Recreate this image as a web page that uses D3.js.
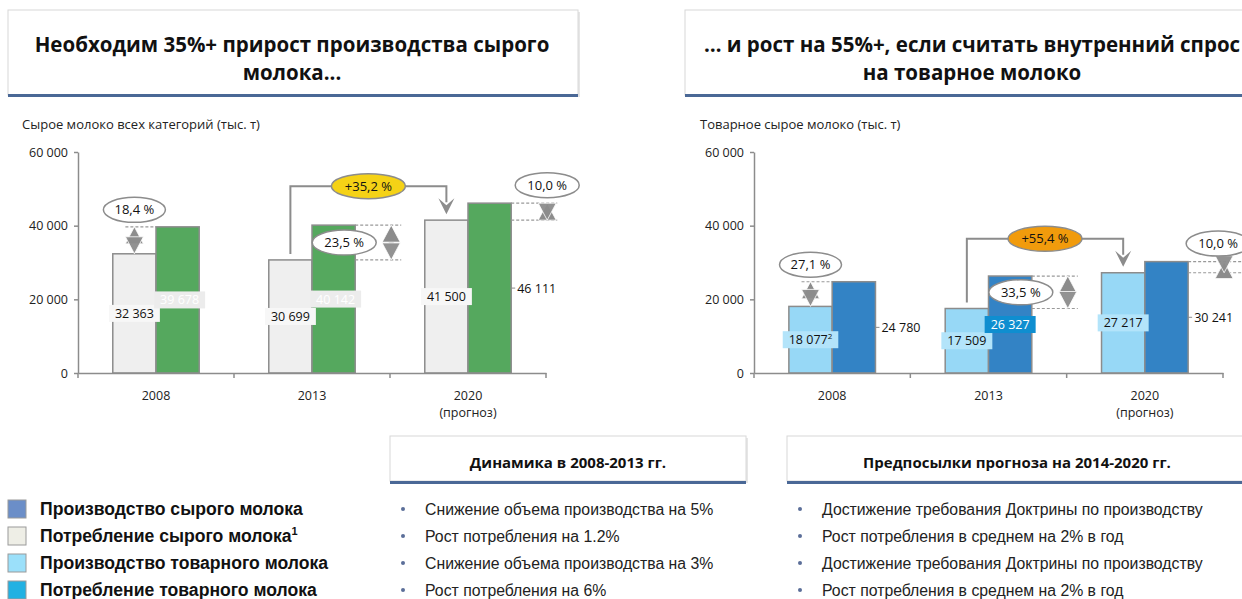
<!DOCTYPE html>
<html>
<head>
<meta charset="utf-8">
<script src="https://cdn.jsdelivr.net/npm/d3@7"></script>
<style>
  body { margin: 0; background: #fff; }
</style>
</head>
<body>
<div id="chart"></div>
<script>
// data
var years = ["2008", "2013", "2020"];
var yearNotes = ["", "", "(прогноз)"];
var rawProduction = [32363, 30699, 41500];
var rawConsumption = [39678, 40142, 46111];
var marketProduction = [18077, 17509, 27217];
var marketProductionNotes = ["2", "", ""];
var marketConsumption = [24780, 26327, 30241];
var rawGapLabels = ["18,4 %", "23,5 %", "10,0 %"];
var marketGapLabels = ["27,1 %", "33,5 %", "10,0 %"];
var rawGrowthLabel = "+35,2 %";
var marketGrowthLabel = "+55,4 %";
var yTicks = [0, 20000, 40000, 60000];

var legendLabels = ["Производство сырого молока", "Потребление сырого молока", "Производство товарного молока", "Потребление товарного молока"];
var legendNotes = ["", "1", "", ""];
var dynamicsTitle = "Динамика в 2008-2013 гг.";
var dynamicsBullets = ["Снижение объема производства на 5%", "Рост потребления на 1.2%", "Снижение объема производства на 3%", "Рост потребления на 6%"];
var forecastTitle = "Предпосылки прогноза на 2014-2020 гг.";
var forecastBullets = ["Достижение требования Доктрины по производству", "Рост потребления в среднем на 2% в год", "Достижение требования Доктрины по производству", "Рост потребления в среднем на 2% в год"];

var width = 1242, height = 599;
var grey = "#8c8c8c";

var svg = d3.select("#chart").append("svg")
    .attr("width", width)
    .attr("height", height)
    .style("font-family", "'Open Sans', sans-serif");

var fmt = d3.formatLocale({decimal: ",", thousands: " ", grouping: [3], currency: ["", ""]}).format(",d");

// header boxes with blue underline
function headerBox(x, y, w, h, lines, size) {
  var g = svg.append("g");
  g.append("rect").attr("x", x + 2).attr("y", y + 2).attr("width", w).attr("height", h)
      .attr("fill", "#e6e6e6");
  g.append("rect").attr("x", x).attr("y", y).attr("width", w).attr("height", h)
      .attr("fill", "#fff").attr("stroke", "#d8d8d8");
  g.append("rect").attr("x", x).attr("y", y + h - 1).attr("width", w).attr("height", 3)
      .attr("fill", "#4a6896");
  lines.forEach(function(t) {
    g.append("text")
        .attr("x", t.cx)
        .attr("y", t.y)
        .attr("text-anchor", "middle")
        .attr("font-weight", "bold")
        .attr("font-size", size)
        .attr("fill", "#111")
        .text(t.text);
  });
}

headerBox(8, 10, 570, 85, [{text: "Необходим 35%+ прирост производства сырого", y: 52, cx: 292},
                           {text: "молока...", y: 80, cx: 292}], 20.5);
headerBox(685, 10, 570, 85, [{text: "… и рост на 55%+, если считать внутренний спрос", y: 52, cx: 972},
                             {text: "на товарное молоко", y: 80, cx: 972}], 20.5);

svg.append("text").attr("x", 22).attr("y", 129).attr("font-size", 13).attr("fill", "#222")
    .text("Сырое молоко всех категорий (тыс. т)");
svg.append("text").attr("x", 700).attr("y", 129).attr("font-size", 13).attr("fill", "#222")
    .text("Товарное сырое молоко (тыс. т)");

function doubleArrow(g, x, yTop, yBot) {
  var hw = 9, hh = 17;
  if (yBot - yTop > 2 * hh) {
    g.append("rect").attr("x", x - 2.5).attr("y", yTop + hh - 1).attr("width", 5)
        .attr("height", yBot - yTop - 2 * hh + 2).attr("fill", grey);
  }
  g.append("path")
      .attr("d", "M" + x + "," + yTop + "L" + (x + hw) + "," + (yTop + hh) + "L" + (x - hw) + "," + (yTop + hh) + "Z")
      .attr("fill", grey).attr("stroke", "#fff").attr("stroke-width", 0.8);
  g.append("path")
      .attr("d", "M" + x + "," + yBot + "L" + (x + hw) + "," + (yBot - hh) + "L" + (x - hw) + "," + (yBot - hh) + "Z")
      .attr("fill", grey).attr("stroke", "#fff").attr("stroke-width", 0.8).attr("fill-opacity", 0.95);
}

function bubble(g, cx, cy, rx, label, fill) {
  g.append("ellipse").attr("cx", cx).attr("cy", cy).attr("rx", rx).attr("ry", 12.5)
      .attr("fill", fill || "#fff").attr("stroke", grey).attr("stroke-width", 1.5);
  g.append("text").attr("x", cx).attr("y", cy + 4.5).attr("text-anchor", "middle")
      .attr("font-size", 13).attr("fill", "#111").text(label);
}

function dashed(g, x1, x2, yy) {
  g.append("line").attr("x1", x1).attr("x2", x2).attr("y1", yy).attr("y2", yy)
      .attr("stroke", "#999").attr("stroke-width", 1.2).attr("stroke-dasharray", "3,2");
}

function drawChart(c) {
  var g = svg.append("g");
  var x = d3.scaleBand().domain(years).range([c.left, c.right]);
  var y = d3.scaleLinear().domain([0, 60000]).range([373, 152]);
  var bw = x.bandwidth() * 0.277;
  var mid = function(d) { return x(d) + x.bandwidth() / 2; };

  // y axis
  var ya = g.append("g").attr("transform", "translate(" + c.left + ",0)")
      .call(d3.axisLeft(y).tickValues(yTicks).tickFormat(fmt).tickSize(4).tickSizeOuter(0).tickPadding(6));
  ya.selectAll("path, line").attr("stroke", grey).attr("stroke-width", 1.5);
  ya.selectAll("text").attr("font-size", 12.5).attr("fill", "#222").style("font-family", "'Open Sans', sans-serif");

  // bars
  var series = [
    {values: c.prod, fill: c.prodFill, dx: -bw},
    {values: c.cons, fill: c.consFill, dx: 0}
  ];
  series.forEach(function(s) {
    g.selectAll(null).data(s.values).enter().append("rect")
        .attr("x", function(d, i) { return mid(years[i]) + s.dx; })
        .attr("y", function(d) { return y(d); })
        .attr("width", bw)
        .attr("height", function(d) { return y(0) - y(d); })
        .attr("fill", s.fill)
        .attr("stroke", grey)
        .attr("stroke-width", 1.5);
  });

  // x axis, ticks at the band edges
  var xa = g.append("g").attr("transform", "translate(0," + y(0) + ")")
      .call(d3.axisBottom(x).tickSize(0).tickSizeOuter(0).tickPadding(18));
  xa.select(".domain").attr("stroke", grey).attr("stroke-width", 1.5);
  xa.selectAll("text").attr("font-size", 12.5).attr("fill", "#222").style("font-family", "'Open Sans', sans-serif");
  years.concat(["end"]).forEach(function(d, i) {
    var xx = i < years.length ? x(d) : x.range()[1];
    g.append("line").attr("x1", xx).attr("x2", xx).attr("y1", y(0)).attr("y2", y(0) + 5)
        .attr("stroke", grey).attr("stroke-width", 1.5);
  });
  yearNotes.forEach(function(t, i) {
    if (!t) return;
    g.append("text").attr("x", mid(years[i])).attr("y", 417).attr("text-anchor", "middle")
        .attr("font-size", 12.5).attr("fill", "#222").text(t);
  });

  // value labels
  function valueLabel(v, xc, right, style, note) {
    var ym = (y(0) + y(v)) / 2;
    if (style.mode === "out") {
      g.append("line").attr("x1", right).attr("x2", right + 4).attr("y1", ym).attr("y2", ym)
          .attr("stroke", grey);
      g.append("text").attr("x", right + 6).attr("y", ym + 4.5).attr("font-size", 12.5)
          .attr("fill", "#111").text(fmt(v));
      return;
    }
    var t = g.append("text").attr("x", xc).attr("y", ym + 4.5).attr("text-anchor", "middle")
        .attr("font-size", 12.5).attr("fill", style.text);
    t.append("tspan").text(fmt(v));
    if (note) t.append("tspan").attr("font-size", 8).attr("dy", -5).text(note);
    var w = t.node().getComputedTextLength() + 12;
    g.insert("rect", function() { return t.node(); })
        .attr("x", xc - w / 2).attr("y", ym - 8.5).attr("width", w).attr("height", 17)
        .attr("fill", style.box);
  }
  c.prod.forEach(function(v, i) {
    valueLabel(v, mid(years[i]) - bw / 2, mid(years[i]), c.prodLabel[i], c.prodNotes ? c.prodNotes[i] : "");
  });
  c.cons.forEach(function(v, i) {
    valueLabel(v, mid(years[i]) + bw / 2 + c.consShift, mid(years[i]) + bw, c.consLabel[i], "");
  });

  // growth connector between 2013 and 2020 production
  var xa1 = mid(years[1]) - bw / 2, xb1 = mid(years[2]) - bw / 2;
  var tip = y(c.prod[2]) - 6;
  var level = y(c.prod[2]) - 34;
  g.append("path")
      .attr("d", "M" + xa1 + "," + (y(c.prod[1]) - 6) + "V" + level + "H" + xb1 + "V" + (tip - 12))
      .attr("fill", "none").attr("stroke", grey).attr("stroke-width", 2);
  g.append("path")
      .attr("d", "M" + (xb1 - 8) + "," + (tip - 16) + "L" + xb1 + "," + (tip - 9) + "L" + (xb1 + 8) + "," + (tip - 16) + "L" + xb1 + "," + tip + "Z")
      .attr("fill", grey);
  bubble(g, (xa1 + xb1) / 2, level, 37, c.growth, c.growthFill);

  // gap annotations
  c.prod.forEach(function(v, i) {
    var top = y(c.cons[i]), bot = y(v);
    var right = mid(years[i]) + bw;
    if (i === 0) {
      var xa0 = mid(years[i]) - bw / 2;
      dashed(g, xa0 - 9, mid(years[i]), top);
      doubleArrow(g, xa0, top, bot);
      bubble(g, xa0, top - 17, 31, c.gaps[i]);
    } else if (i === 1) {
      dashed(g, right, right + 46, top);
      dashed(g, right, right + 46, bot);
      doubleArrow(g, right + 36, top, bot);
      bubble(g, right - 11, (top + bot) / 2, 32, c.gaps[i]);
    } else {
      dashed(g, right, right + c.lastDash, top);
      dashed(g, right, right + c.lastDash, bot);
      doubleArrow(g, right + 36, top, bot);
      bubble(g, right + c.lastBubble, top - 18, 32, c.gaps[i]);
    }
  });
}

drawChart({
  left: 78, right: 546,
  prod: rawProduction, cons: rawConsumption,
  prodFill: "#efefef", consFill: "#55a85e",
  prodLabel: [{mode: "box", box: "#f7f7f7", text: "#111"}, {mode: "box", box: "#f7f7f7", text: "#111"}, {mode: "box", box: "#f7f7f7", text: "#111"}],
  consLabel: [{mode: "box", box: "#ececec", text: "#fff"}, {mode: "box", box: "#ececec", text: "#fff"}, {mode: "out"}],
  consShift: 2,
  gaps: rawGapLabels, growth: rawGrowthLabel, growthFill: "#f5d216",
  lastDash: 46, lastBubble: 36
});

drawChart({
  left: 754, right: 1223,
  prod: marketProduction, cons: marketConsumption, prodNotes: marketProductionNotes,
  prodFill: "#97d8f6", consFill: "#3383c5",
  prodLabel: [{mode: "box", box: "#b3e4fa", text: "#111"}, {mode: "box", box: "#b3e4fa", text: "#111"}, {mode: "box", box: "#b3e4fa", text: "#111"}],
  consLabel: [{mode: "out"}, {mode: "box", box: "#0f8ed0", text: "#fff"}, {mode: "out"}],
  consShift: 0,
  gaps: marketGapLabels, growth: marketGrowthLabel, growthFill: "#f19b0c",
  lastDash: 60, lastBubble: 30
});

// legend
var legendColors = ["#6b8ec8", "#eeeee6", "#9be0fa", "#22b1e2"];
var rowsY = [509, 536, 563, 590];
var legend = svg.append("g").style("font-family", "'Liberation Sans', Arial, sans-serif");
legendLabels.forEach(function(t, i) {
  legend.append("rect").attr("x", 8).attr("y", rowsY[i] - 9).attr("width", 18).attr("height", 18)
      .attr("fill", legendColors[i]).attr("stroke", "#9a9a9a");
  var tx = legend.append("text").attr("x", 40).attr("y", rowsY[i] + 6)
      .attr("font-size", 17.6).attr("font-weight", "bold").attr("fill", "#111");
  tx.append("tspan").text(t);
  if (legendNotes[i]) tx.append("tspan").attr("font-size", 11).attr("dy", -7).text(legendNotes[i]);
});

// bottom boxes with bullets
function bulletBox(x, w, title, items) {
  var g = svg.append("g");
  g.append("rect").attr("x", x + 2).attr("y", 438).attr("width", w).attr("height", 45).attr("fill", "#e6e6e6");
  g.append("rect").attr("x", x).attr("y", 436).attr("width", w).attr("height", 45)
      .attr("fill", "#fff").attr("stroke", "#d8d8d8");
  g.append("rect").attr("x", x).attr("y", 481).attr("width", w).attr("height", 3).attr("fill", "#4a6896");
  g.append("text").attr("x", x + w / 2).attr("y", 468).attr("text-anchor", "middle")
      .attr("font-size", 15).attr("font-weight", "bold").attr("fill", "#111").text(title);
  items.forEach(function(t, i) {
    g.append("circle").attr("cx", x + 13).attr("cy", rowsY[i]).attr("r", 2).attr("fill", "#5b6e99");
    g.append("text").attr("x", x + 35).attr("y", rowsY[i] + 5.5)
        .style("font-family", "'Liberation Sans', Arial, sans-serif")
        .attr("font-size", 15.8).attr("fill", "#222").text(t);
  });
}
bulletBox(390, 356, dynamicsTitle, dynamicsBullets);
bulletBox(787, 460, forecastTitle, forecastBullets);
</script>
</body>
</html>
